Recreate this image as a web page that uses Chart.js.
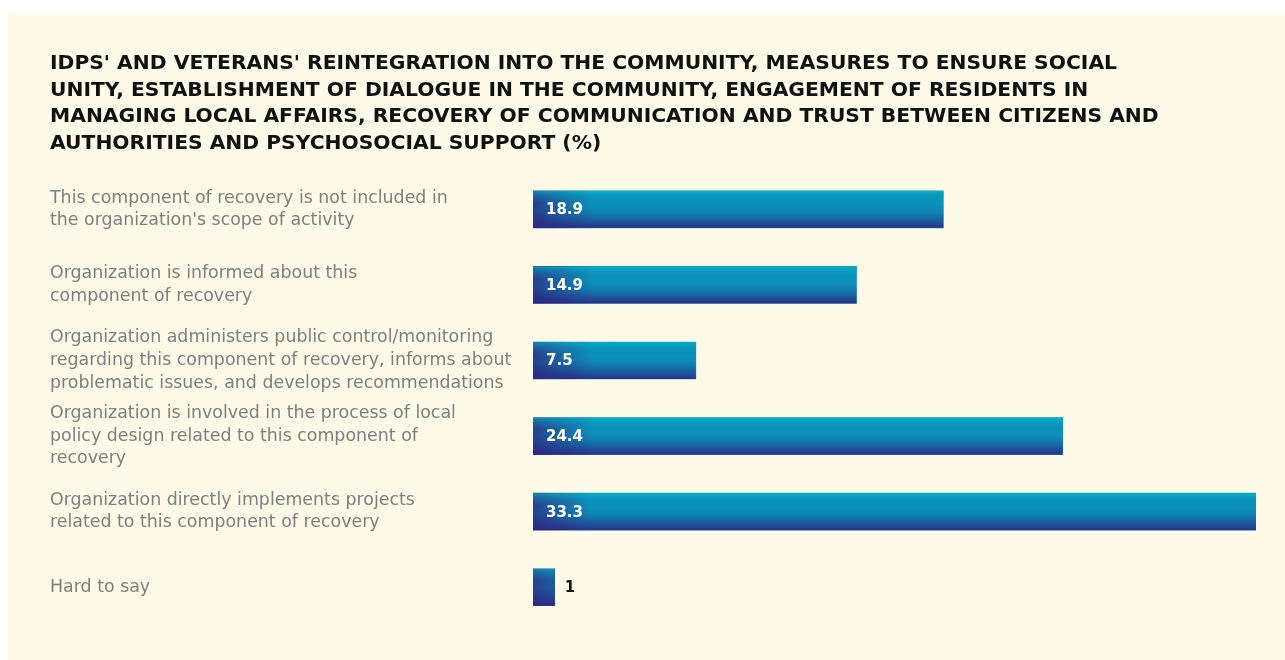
<!DOCTYPE html>
<html>
<head>
<meta charset="utf-8">
<script src="https://cdn.jsdelivr.net/npm/chart.js@4"></script>
<style>
  html, body { margin: 0; padding: 0; background: #ffffff; }
  #panel {
    position: absolute; left: 8px; top: 13px;
    width: 1277px; height: 647px;
    background: #fdfbe8;
  }
</style>
</head>
<body>
<div id="panel"><canvas id="chart" width="1277" height="647"></canvas></div>
<script>
const titleLines = [
  "IDPS' AND VETERANS' REINTEGRATION INTO THE COMMUNITY, MEASURES TO ENSURE SOCIAL",
  "UNITY, ESTABLISHMENT OF DIALOGUE IN THE COMMUNITY, ENGAGEMENT OF RESIDENTS IN",
  "MANAGING LOCAL AFFAIRS, RECOVERY OF COMMUNICATION AND TRUST BETWEEN CITIZENS AND",
  "AUTHORITIES AND PSYCHOSOCIAL SUPPORT (%)"
];

const categories = [
  ["This component of recovery is not included in", "the organization's scope of activity"],
  ["Organization is informed about this", "component of recovery"],
  ["Organization administers public control/monitoring", "regarding this component of recovery, informs about", "problematic issues, and develops recommendations"],
  ["Organization is involved in the process of local", "policy design related to this component of", "recovery"],
  ["Organization directly implements projects", "related to this component of recovery"],
  ["Hard to say"]
];

const values = [18.9, 14.9, 7.5, 24.4, 33.3, 1];

// each bar gets its own gradient: dark indigo on the left, teal on the right,
// plus a top-light / bottom-dark wash drawn over it
const barGradient = {
  id: 'barGradient',
  beforeDatasetsDraw(chart) {
    const ctx = chart.ctx;
    chart.getDatasetMeta(0).data.forEach(el => {
      const g = ctx.createLinearGradient(el.base, 0, Math.max(el.x, el.base + 60), 0);
      g.addColorStop(0, '#273e8c');
      g.addColorStop(1, '#0b92b9');
      el.options.backgroundColor = g;
    });
  },
  afterDatasetsDraw(chart) {
    const ctx = chart.ctx;
    const meta = chart.getDatasetMeta(0);
    meta.data.forEach((el, i) => {
      const top = el.y - el.height / 2;
      const g = ctx.createLinearGradient(0, top, 0, top + el.height);
      g.addColorStop(0, 'rgba(0,200,206,0.55)');
      g.addColorStop(0.35, 'rgba(20,120,180,0)');
      g.addColorStop(0.7, 'rgba(40,45,135,0.35)');
      g.addColorStop(1, 'rgba(48,32,128,0.85)');
      ctx.save();
      ctx.fillStyle = g;
      ctx.fillRect(el.base, top, el.x - el.base, el.height);
      ctx.restore();

      // value label: inside the bar in white, or just after it when the bar is short
      const v = chart.data.datasets[0].data[i];
      const w = el.x - el.base;
      ctx.save();
      ctx.font = 'bold 15px "DejaVu Sans"';
      ctx.textBaseline = 'middle';
      if (w > 60) {
        ctx.fillStyle = '#ffffff';
        ctx.fillText(String(v), el.base + 13, el.y + 1);
      } else {
        ctx.fillStyle = '#111111';
        ctx.fillText(String(v), el.x + 10, el.y + 1);
      }
      ctx.restore();
    });
  }
};

new Chart(document.getElementById('chart'), {
  type: 'bar',
  data: {
    labels: categories,
    datasets: [{
      data: values,
      backgroundColor: '#1a6aa8',
      borderWidth: 0,
      barThickness: 37
    }]
  },
  options: {
    indexAxis: 'y',
    responsive: false,
    animation: false,
    layout: { padding: { left: 42, right: 29, top: 38, bottom: 35 } },
    plugins: {
      legend: { display: false },
      tooltip: { enabled: false },
      title: {
        display: true,
        text: titleLines,
        align: 'start',
        color: '#111111',
        font: { family: '"DejaVu Sans"', weight: 'bold', size: 20.3, lineHeight: 1.3 },
        padding: { top: 0, bottom: 15 }
      }
    },
    scales: {
      x: {
        display: false,
        min: 0,
        max: 33.3
      },
      y: {
        grid: { display: false },
        border: { display: false },
        ticks: {
          crossAlign: 'far',
          color: '#7e7e7e',
          padding: 0,
          font: { family: '"DejaVu Sans"', size: 17.4, lineHeight: 1.3 }
        },
        afterFit(scale) { scale.width = 483; }
      }
    }
  },
  plugins: [barGradient]
});
</script>
</body>
</html>
